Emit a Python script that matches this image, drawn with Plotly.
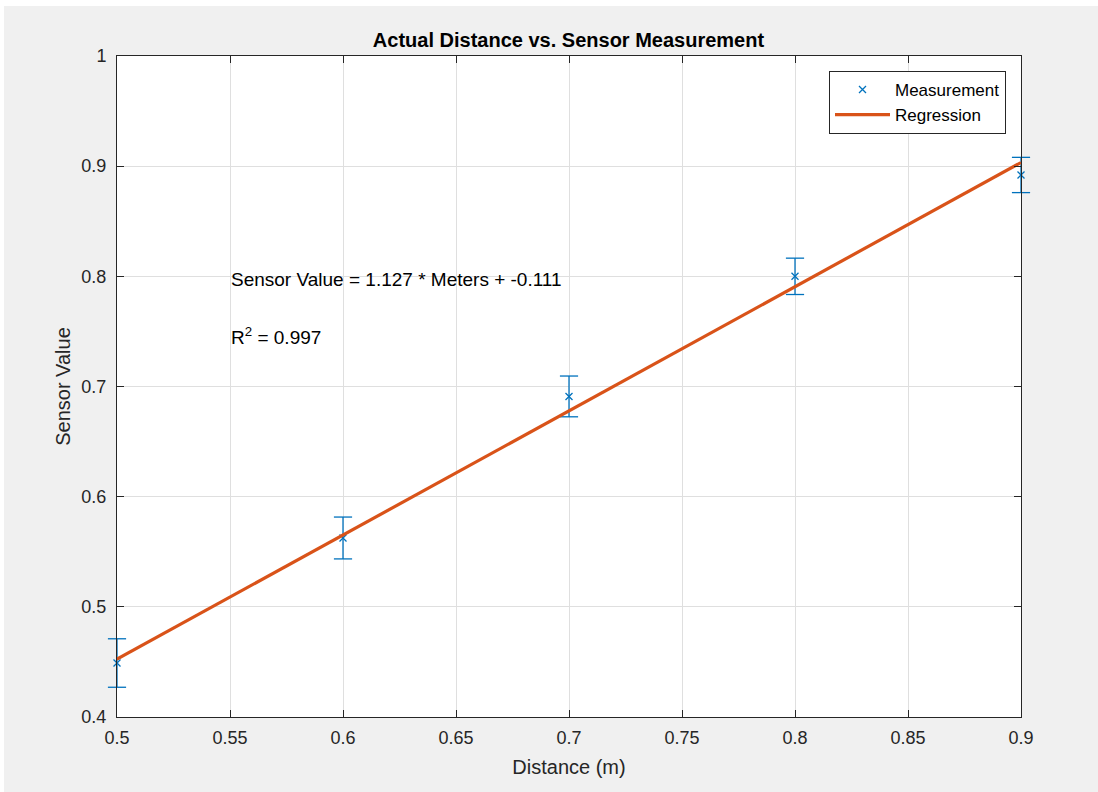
import plotly.graph_objects as go

distance = [0.5, 0.6, 0.7, 0.8, 0.9]
sensor = [0.449, 0.5625, 0.691, 0.800, 0.892]
err = [0.022, 0.019, 0.0185, 0.0165, 0.016]
slope = 1.127
intercept = -0.111
r2 = 0.997
reg_x = [0.5, 0.9]
reg_y = [slope * x + intercept for x in reg_x]

x_ticks = [0.5, 0.55, 0.6, 0.65, 0.7, 0.75, 0.8, 0.85, 0.9]
x_labels = ["0.5", "0.55", "0.6", "0.65", "0.7", "0.75", "0.8", "0.85", "0.9"]
y_ticks = [0.4, 0.5, 0.6, 0.7, 0.8, 0.9, 1.0]
y_labels = ["0.4", "0.5", "0.6", "0.7", "0.8", "0.9", "1"]

blue = "#0072BD"
orange = "#D95319"
axc = "#262626"
font = "Liberation Sans, Arial, sans-serif"

W, H = 1094, 786

# error-bar caps drawn as markers so they are not clipped at the axes edges
cap_x = distance + distance
cap_y = [s + e for s, e in zip(sensor, err)] + [s - e for s, e in zip(sensor, err)]

fig = go.Figure()
fig.add_trace(go.Scatter(
    x=distance, y=sensor, mode="markers", name="Measurement",
    marker=dict(symbol="x-thin", size=7, color=blue, line=dict(color=blue, width=1.3)),
    error_y=dict(type="data", array=err, visible=True, color=blue, thickness=1.3, width=0),
    cliponaxis=False,
))
fig.add_trace(go.Scatter(
    x=cap_x, y=cap_y, mode="markers", showlegend=False, hoverinfo="skip",
    marker=dict(symbol="line-ew", size=13, color=blue, line=dict(color=blue, width=1.3)),
    cliponaxis=False,
))
fig.add_trace(go.Scatter(
    x=reg_x, y=reg_y, mode="lines", name="Regression",
    line=dict(color=orange, width=3.2),
))

fig.add_annotation(x=0.5496, y=0.797, xref="x", yref="y", xanchor="left", yanchor="middle",
                   text=f"Sensor Value = {slope:.3f} * Meters + {intercept:.3f}",
                   showarrow=False, font=dict(size=19, color="black", family=font))
fig.add_annotation(x=0.5496, y=0.746, xref="x", yref="y", xanchor="left", yanchor="middle",
                   text=f"R<sup>2</sup> = {r2:.3f}",
                   showarrow=False, font=dict(size=19, color="black", family=font))

axis_common = dict(
    showline=True, linecolor=axc, linewidth=1, mirror="ticks",
    ticks="inside", ticklen=7, tickcolor=axc,
    showgrid=True, gridcolor="#dfdfdf", gridwidth=1,
    zeroline=False,
    tickfont=dict(size=18, color=axc, family=font),
)

fig.update_layout(
    width=W, height=H,
    paper_bgcolor="#f0f0f0", plot_bgcolor="white",
    margin=dict(l=113, r=77, t=50, b=75),
    font=dict(family=font, color=axc),
    title=dict(text="<b>Actual Distance vs. Sensor Measurement</b>", x=564.5 / W,
               xanchor="center", y=1 - 34 / H, yanchor="middle",
               font=dict(size=20, color="black", family=font)),
    xaxis=dict(range=[0.5, 0.9], tickvals=x_ticks, ticktext=x_labels,
               ticklabelstandoff=4,
               title=dict(text="Distance (m)", font=dict(size=20, color=axc, family=font), standoff=13),
               **axis_common),
    yaxis=dict(range=[0.4, 1.0], tickvals=y_ticks, ticktext=y_labels,
               ticklabelstandoff=6,
               title=dict(text="Sensor Value", font=dict(size=20, color=axc, family=font), standoff=5),
               **axis_common),
    legend=dict(x=(829 - 117) / 904, y=(717 - 71) / 661, xanchor="left", yanchor="top",
                bgcolor="white", bordercolor=axc, borderwidth=1,
                font=dict(size=17, color="black", family=font),
                tracegroupgap=0, itemwidth=55),
    showlegend=True,
)

fig.write_html("out.html", post_script="document.body.style.margin='6px 0 0 4px';")
